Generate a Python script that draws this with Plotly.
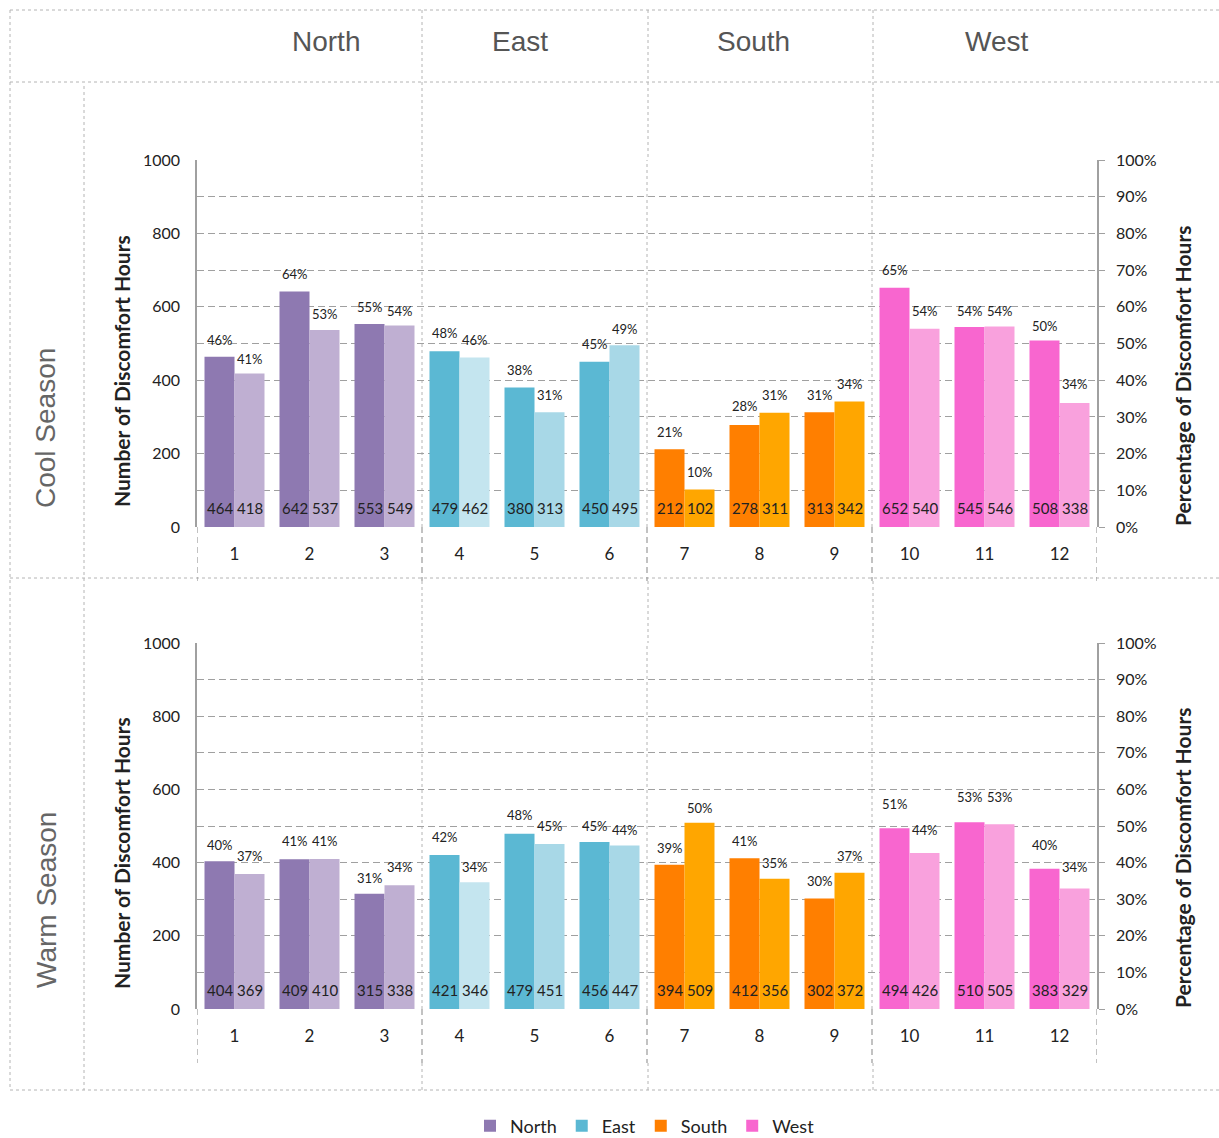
import plotly.graph_objects as go

# ---- data ---------------------------------------------------------------
categories = ["1", "2", "3", "4", "5", "6", "7", "8", "9", "10", "11", "12"]
regions = ["North", "North", "North", "East", "East", "East",
           "South", "South", "South", "West", "West", "West"]
region_names = ["North", "East", "South", "West"]

cool_hours_a = [464, 642, 553, 479, 380, 450, 212, 278, 313, 652, 545, 508]
cool_hours_b = [418, 537, 549, 462, 313, 495, 102, 311, 342, 540, 546, 338]
cool_pct_a = [46, 64, 55, 48, 38, 45, 21, 28, 31, 65, 54, 50]
cool_pct_b = [41, 53, 54, 46, 31, 49, 10, 31, 34, 54, 54, 34]

warm_hours_a = [404, 409, 315, 421, 479, 456, 394, 412, 302, 494, 510, 383]
warm_hours_b = [369, 410, 338, 346, 451, 447, 509, 356, 372, 426, 505, 329]
warm_pct_a = [40, 41, 31, 42, 48, 45, 39, 41, 30, 51, 53, 40]
warm_pct_b = [37, 41, 34, 34, 45, 44, 50, 35, 37, 44, 53, 34]

# ---- styles -------------------------------------------------------------
W, H = 1219, 1138
dark_colors = {"North": "#8E79B1", "East": "#5BB8D3",
               "South": "#FF7F00", "West": "#F866CF"}
light_colors = {"North": "#BFAFD2", "East": "#A8D8E7",
                "South": "#FFA600", "West": "#F9A1DD"}
light_override = {3: "#C4E5EF"}  # the first East box is a paler tint

FONT = "Lato"
TXT = "#222222"
GRID = "#a0a0a0"
FRAME = "#b4b4b4"


def fx(px):
    return px / W


def fy(py):
    return 1 - py / H


n = len(categories)
xs = list(range(n))
col_dark = [dark_colors[r] for r in regions]
col_light = [light_override.get(i, light_colors[r]) for i, r in enumerate(regions)]

panels = [
    # (hours a, hours b, pct a, pct b, xaxis, yaxis, yaxis right, plot top px, plot bottom px)
    (cool_hours_a, cool_hours_b, cool_pct_a, cool_pct_b, "x", "y", "y2", 160, 527),
    (warm_hours_a, warm_hours_b, warm_pct_a, warm_pct_b, "x2", "y3", "y4", 643, 1009),
]

fig = go.Figure()
annotations = []
shapes = []

for ha, hb, pa, pb, xa, ya, ya2, top, bot in panels:
    fig.add_trace(go.Bar(x=xs, y=ha, xaxis=xa, yaxis=ya, marker_color=col_dark,
                         marker_line_width=0, showlegend=False, hoverinfo="skip"))
    fig.add_trace(go.Bar(x=xs, y=hb, xaxis=xa, yaxis=ya, marker_color=col_light,
                         marker_line_width=0, showlegend=False, hoverinfo="skip"))
    # percentage series on the secondary axis (labels only)
    fig.add_trace(go.Scatter(x=[i - 0.2 for i in xs] + [i + 0.2 for i in xs],
                             y=[p / 100 for p in pa] + [p / 100 for p in pb],
                             xaxis=xa, yaxis=ya2, mode="markers",
                             marker=dict(opacity=0, size=1),
                             showlegend=False, hoverinfo="skip"))
    for i in xs:
        for off, h, p in ((-0.2, ha[i], pa[i]), (0.2, hb[i], pb[i])):
            annotations.append(dict(x=i + off, y=0, xref=xa, yref=ya, text=str(h),
                                    showarrow=False, yanchor="middle", yshift=19,
                                    font=dict(family=FONT, size=15, color=TXT)))
            annotations.append(dict(x=i + off, y=p / 100, xref=xa, yref=ya2,
                                    text=f"{p}%", showarrow=False, yanchor="middle",
                                    yshift=18,
                                    font=dict(family=FONT, size=13, color=TXT)))
    # group separators: dotted through the plot, dashed beneath the axis
    for b in (-0.5, 2.5, 5.5, 8.5, 11.5):
        shapes.append(dict(type="line", xref=xa, yref="paper", x0=b, x1=b,
                           y0=fy(bot), y1=fy(bot + 54),
                           line=dict(color="#9a9a9a", width=1.2, dash="6px,4px")))
    for b in (2.5, 5.5, 8.5):
        shapes.append(dict(type="line", xref=xa, yref="paper", x0=b, x1=b,
                           y0=fy(bot), y1=fy(top), layer="below",
                           line=dict(color=FRAME, width=1, dash="dot")))

# legend entries
for r in region_names:
    fig.add_trace(go.Scatter(x=[None], y=[None], mode="markers", name=r,
                             marker=dict(symbol="square", size=12, color=dark_colors[r]),
                             xaxis="x", yaxis="y"))

# ---- frame of the layout table -----------------------------------------
frame_lines = [
    (10, 10, 1219, 10), (10, 82, 1219, 82), (10, 578, 1219, 578),
    (10, 1090, 1219, 1090), (10, 10, 10, 1090), (84, 86, 84, 1090),
    (422, 10, 422, 160), (648, 10, 648, 160), (873, 10, 873, 160),
    (422, 581, 422, 643), (648, 581, 648, 643), (873, 581, 873, 643),
    (422, 1063, 422, 1090), (648, 1063, 648, 1090), (873, 1063, 873, 1090),
]
for x0, y0, x1, y1 in frame_lines:
    shapes.append(dict(type="line", xref="paper", yref="paper",
                       x0=fx(x0), y0=fy(y0), x1=fx(x1), y1=fy(y1), layer="below",
                       line=dict(color=FRAME, width=1, dash="dot")))

# ---- text blocks --------------------------------------------------------
for name, px in zip(region_names, (326, 520, 753, 996)):
    annotations.append(dict(x=fx(px), y=fy(42), xref="paper", yref="paper", text=name,
                            showarrow=False, xanchor="center", yanchor="middle",
                            font=dict(family="Liberation Sans", size=28, color="#555555")))

for label, py in (("Cool Season", 428), ("Warm Season", 900)):
    annotations.append(dict(x=fx(46), y=fy(py), xref="paper", yref="paper", text=label,
                            showarrow=False, textangle=-90, xanchor="center",
                            yanchor="middle",
                            font=dict(family="Liberation Sans", size=28, color="#666666")))

for left_mid, right_mid in ((371, 376), (853, 858)):
    annotations.append(dict(x=fx(121), y=fy(left_mid), xref="paper", yref="paper",
                            text="<b>Number of Discomfort Hours</b>", showarrow=False,
                            textangle=-90, xanchor="center", yanchor="middle",
                            font=dict(family=FONT, size=21, color=TXT)))
    annotations.append(dict(x=fx(1182), y=fy(right_mid), xref="paper", yref="paper",
                            text="<b>Percentage of Discomfort Hours</b>", showarrow=False,
                            textangle=-90, xanchor="center", yanchor="middle",
                            font=dict(family=FONT, size=21, color=TXT)))

# ---- axes ---------------------------------------------------------------
x_dom = [fx(197), fx(1097)]
xaxis_common = dict(domain=x_dom, range=[-0.5, n - 0.5], tickvals=xs, ticktext=categories,
                    ticks="outside", ticklen=12, tickcolor="rgba(0,0,0,0)",
                    showgrid=False, zeroline=False, showline=False, fixedrange=True,
                    tickfont=dict(family=FONT, size=17, color=TXT))
yleft_common = dict(range=[0, 1000], tickvals=[0, 200, 400, 600, 800, 1000],
                    showgrid=False, zeroline=False, showline=True,
                    linecolor="#a0a0a0", linewidth=1.5, ticks="outside", ticklen=12,
                    tickcolor="rgba(0,0,0,0)", fixedrange=True,
                    tickfont=dict(family=FONT, size=16, color=TXT))
yright_common = dict(range=[0, 1], dtick=0.1, tick0=0, tickformat=".0%", side="right",
                     showgrid=True, gridcolor=GRID, griddash="7px,4px", gridwidth=1,
                     zeroline=False, showline=True, linecolor="#a0a0a0", linewidth=1.5,
                     ticks="outside", ticklen=6, tickcolor="#a0a0a0",
                     ticklabelstandoff=8, fixedrange=True,
                     tickfont=dict(family=FONT, size=16, color=TXT))

fig.update_layout(
    width=W, height=H,
    margin=dict(l=0, r=0, t=0, b=0, autoexpand=False),
    paper_bgcolor="white", plot_bgcolor="white",
    barmode="group", bargap=0.2, bargroupgap=0,
    xaxis=dict(anchor="y", **xaxis_common),
    xaxis2=dict(anchor="y3", **xaxis_common),
    yaxis=dict(domain=[fy(527), fy(160)], anchor="x", **yleft_common),
    yaxis2=dict(overlaying="y", anchor="x", **yright_common),
    yaxis3=dict(domain=[fy(1009), fy(643)], anchor="x2", **yleft_common),
    yaxis4=dict(overlaying="y3", anchor="x2", **yright_common),
    legend=dict(orientation="h", x=fx(645), xanchor="center", y=fy(1126),
                yanchor="middle", font=dict(family=FONT, size=18, color=TXT),
                itemwidth=30, bgcolor="rgba(0,0,0,0)"),
    annotations=annotations,
    shapes=shapes,
)

fig.write_html("out.html")
